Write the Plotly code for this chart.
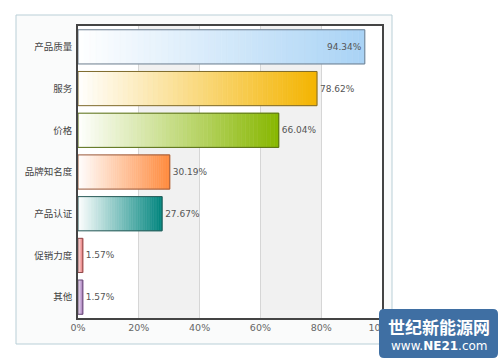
import plotly.graph_objects as go

categories = ["产品质量", "服务", "价格", "品牌知名度", "产品认证", "促销力度", "其他"]
values = [94.34, 78.62, 66.04, 30.19, 27.67, 1.57, 1.57]
tick_vals = [0, 20, 40, 60, 80, 100]
tick_text = ["0%", "20%", "40%", "60%", "80%", "100%"]
end_colors = ["#A9D3F5", "#F4B400", "#87B700", "#FF8A3D", "#00857E", "#EE8A8A", "#B48CC8"]
border_colors = ["#6C7E8E", "#7E6A2C", "#556B10", "#9A5A3C", "#2A5A58", "#8E4C4C", "#6A5078"]
label_pos = ["inside", "outside", "outside", "outside", "outside", "outside", "outside"]

N_SEG = 48
BAR_W = 0.82


def hex_to_rgb(h):
    h = h.lstrip("#")
    return tuple(int(h[i:i + 2], 16) for i in (0, 2, 4))


def mix(c, t):
    r, g, b = hex_to_rgb(c)
    return "rgb(%d,%d,%d)" % (round(255 + (r - 255) * t), round(255 + (g - 255) * t), round(255 + (b - 255) * t))


fig = go.Figure()

for i in range(N_SEG):
    t = (i + 0.5) / N_SEG
    cols = [mix(c, t) for c in end_colors]
    fig.add_trace(go.Bar(
        y=categories,
        x=[v / N_SEG for v in values],
        base=[v * i / N_SEG for v in values],
        orientation="h",
        width=BAR_W,
        marker=dict(color=cols, line=dict(color=cols, width=0.6)),
        hoverinfo="skip",
        showlegend=False,
    ))

fig.add_trace(go.Bar(
    y=categories,
    x=values,
    orientation="h",
    width=BAR_W,
    marker=dict(color="rgba(0,0,0,0)", line=dict(color=border_colors, width=1)),
    text=["%.2f%%" % v for v in values],
    textposition=label_pos,
    insidetextanchor="end",
    textfont=dict(family="DejaVu Sans", size=9, color="#555555"),
    insidetextfont=dict(family="DejaVu Sans", size=9, color="#555555"),
    outsidetextfont=dict(family="DejaVu Sans", size=9, color="#555555"),
    cliponaxis=False,
    showlegend=False,
))


def px_x(p):
    return (p - 78) / 304.0


def px_y(p):
    return (318 - p) / 292.0


shapes = []
shapes.append(dict(type="rect", xref="paper", yref="paper", layer="below",
                   x0=px_x(16), x1=px_x(392), y0=px_y(344), y1=px_y(15),
                   fillcolor="#FAFBFB", line=dict(color="#B9CFD7", width=1)))
shapes.append(dict(type="rect", xref="paper", yref="paper", layer="below",
                   x0=0, x1=1, y0=0, y1=1, fillcolor="#FFFFFF", line=dict(width=0)))
for a, b in [(20, 40), (60, 80)]:
    shapes.append(dict(type="rect", xref="x", yref="paper", layer="below",
                       x0=a, x1=b, y0=0, y1=1, fillcolor="#F1F1F1", line=dict(width=0)))

x0, x1, y0, y1 = px_x(379), px_x(498), px_y(358), px_y(309)
rx, ry = 5 / 304.0, 5 / 292.0
path = (f"M {x0+rx},{y0} L {x1-rx},{y0} Q {x1},{y0} {x1},{y0+ry} L {x1},{y1-ry} "
        f"Q {x1},{y1} {x1-rx},{y1} L {x0+rx},{y1} Q {x0},{y1} {x0},{y1-ry} "
        f"L {x0},{y0+ry} Q {x0},{y0} {x0+rx},{y0} Z")
shapes.append(dict(type="path", xref="paper", yref="paper", layer="above",
                   path=path, fillcolor="#3F6FA3", line=dict(width=0)))

annotations = [
    dict(xref="paper", yref="paper", x=px_x(439), y=px_y(326), text="<b>世纪新能源网</b>",
         showarrow=False, font=dict(family="Noto Sans CJK SC", size=17, color="#FFFFFF"),
         xanchor="center", yanchor="middle"),
    dict(xref="paper", yref="paper", x=px_x(439), y=px_y(346), text="www.<b>NE21</b>.com",
         showarrow=False, font=dict(family="DejaVu Sans", size=12, color="#FFFFFF"),
         xanchor="center", yanchor="middle"),
]

fig.update_layout(
    width=504, height=364,
    margin=dict(l=78, r=122, t=26, b=46),
    paper_bgcolor="#FFFFFF",
    plot_bgcolor="#FFFFFF",
    barmode="overlay",
    shapes=shapes,
    annotations=annotations,
    font=dict(family="DejaVu Sans, Noto Sans CJK SC", size=9, color="#555555"),
    xaxis=dict(range=[0, 100], tickmode="array", tickvals=tick_vals, ticktext=tick_text,
               showgrid=True, gridcolor="#D6D6D6", gridwidth=1, zeroline=False,
               showline=True, mirror=True, linecolor="#444444", linewidth=1.5,
               ticks="", tickfont=dict(family="DejaVu Sans", size=9.5, color="#666666")),
    yaxis=dict(autorange="reversed", showgrid=False, zeroline=False,
               showline=True, mirror=True, linecolor="#444444", linewidth=1.5,
               ticks="", ticklabelstandoff=2,
               tickfont=dict(family="Noto Sans CJK SC", size=9.5, color="#444444")),
)

fig.write_html("out.html", config={"displayModeBar": False},
               post_script="document.body.style.margin='0';")
